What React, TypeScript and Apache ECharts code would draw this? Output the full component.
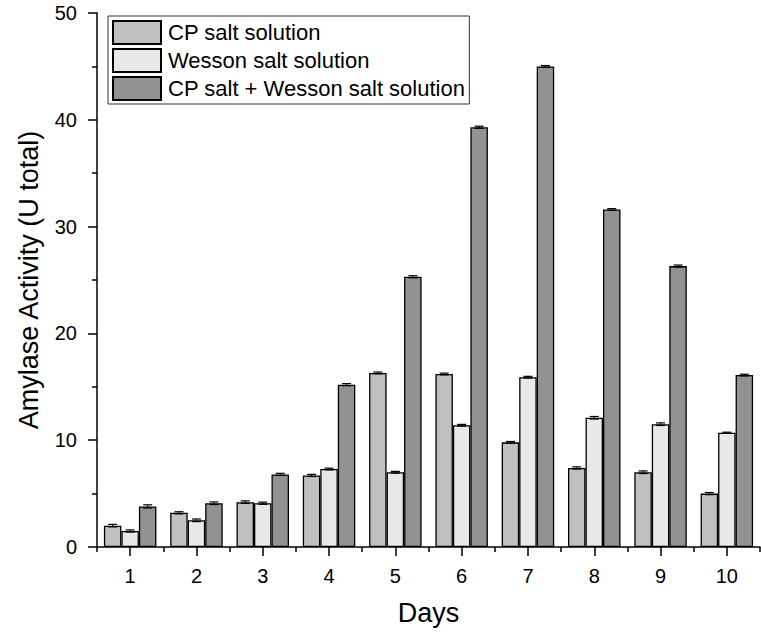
import React, { useEffect, useRef } from "react";
import * as echarts from "echarts";

const days = ["1", "2", "3", "4", "5", "6", "7", "8", "9", "10"];
const seriesNames = ["CP salt solution", "Wesson salt solution", "CP salt + Wesson salt solution"];
const cpSalt = [2.0, 3.2, 4.2, 6.7, 16.3, 16.2, 9.8, 7.4, 7.0, 5.0];
const wessonSalt = [1.5, 2.5, 4.1, 7.3, 7.0, 11.4, 15.9, 12.1, 11.5, 10.7];
const combined = [3.8, 4.1, 6.8, 15.2, 25.3, 39.3, 45.0, 31.6, 26.3, 16.1];
const cpErr = [0.12, 0.1, 0.12, 0.1, 0.08, 0.08, 0.08, 0.1, 0.12, 0.1];
const wessonErr = [0.1, 0.12, 0.1, 0.08, 0.08, 0.08, 0.08, 0.12, 0.12, 0.05];
const combinedErr = [0.15, 0.12, 0.1, 0.1, 0.1, 0.1, 0.08, 0.08, 0.1, 0.08];
const colors = ["#c0c0c0", "#e8e8e8", "#929292"];

const FONT = "'Liberation Sans', Arial, sans-serif";
const BAR_W = 17.5;

export default function App() {
  const ref = useRef<HTMLDivElement>(null);
  useEffect(() => {
    if (!ref.current) return;
    const chart = echarts.init(ref.current, null, { renderer: "svg" });
    const values = [cpSalt, wessonSalt, combined];
    const errs = [cpErr, wessonErr, combinedErr];

    const barSeries = values.map((v, k) => ({
      name: seriesNames[k],
      type: "bar",
      xAxisIndex: 0,
      data: v,
      barWidth: BAR_W,
      barGap: "0%",
      itemStyle: { color: colors[k], borderColor: "#000", borderWidth: 1.3 },
      z: 2,
    }));

    const errSeries = values.map((v, k) => ({
      type: "custom",
      xAxisIndex: 0,
      data: v.map((val, i) => [i, val, errs[k][i]]),
      z: 5,
      silent: true,
      renderItem: (params: any, api: any) => {
        const i = api.value(0);
        const val = api.value(1);
        const e = api.value(2);
        const off = (k - 1) * BAR_W;
        const top = api.coord([i, val + e]);
        const bot = api.coord([i, val - e]);
        const x = top[0] + off;
        const half = 4.5;
        return {
          type: "group",
          children: [
            { type: "line", shape: { x1: x, y1: top[1], x2: x, y2: bot[1] }, style: { stroke: "#000", lineWidth: 1 } },
            { type: "line", shape: { x1: x - half, y1: top[1], x2: x + half, y2: top[1] }, style: { stroke: "#000", lineWidth: 1.2 } },
            { type: "line", shape: { x1: x - half, y1: bot[1], x2: x + half, y2: bot[1] }, style: { stroke: "#000", lineWidth: 1.2 } },
          ],
        };
      },
    }));

    chart.setOption({
      animation: false,
      textStyle: { fontFamily: FONT },
      grid: { left: 97, right: 1, top: 13, bottom: 86 },
      legend: {
        data: seriesNames,
        orient: "vertical",
        left: 108,
        top: 16,
        icon: "rect",
        itemWidth: 48,
        itemHeight: 23,
        itemGap: 3,
        padding: [4, 4, 3, 4],
        backgroundColor: "#fff",
        borderColor: "#333",
        borderWidth: 1,
        borderRadius: 0,
        textStyle: { fontSize: 22, lineHeight: 23, color: "#000", fontFamily: FONT, padding: [0, 0, 0, 2] },
      },
      xAxis: [
        {
          type: "category",
          data: days,
          position: "bottom",
          name: "Days",
          nameLocation: "middle",
          nameGap: 52,
          nameTextStyle: { fontSize: 27, color: "#000", fontFamily: FONT },
          axisLine: { show: true, lineStyle: { color: "#000", width: 1.5 } },
          axisTick: { show: true, alignWithLabel: true, length: 9, lineStyle: { color: "#000", width: 1.5 } },
          axisLabel: { fontSize: 20, color: "#000", margin: 19, fontFamily: FONT },
          splitLine: { show: false },
        },
        {
          type: "category",
          data: days,
          position: "bottom",
          axisLine: { show: false },
          axisTick: { show: true, length: 5, lineStyle: { color: "#000", width: 1.5 } },
          axisLabel: { show: false },
          splitLine: { show: false },
        },
      ],
      yAxis: {
        type: "value",
        min: 0,
        max: 50,
        interval: 10,
        name: "Amylase Activity (U total)",
        nameLocation: "middle",
        nameGap: 55,
        nameRotate: 90,
        nameTextStyle: { fontSize: 27, color: "#000", fontFamily: FONT },
        axisLine: { show: true, lineStyle: { color: "#000", width: 1.5 } },
        axisTick: { show: true, length: 9, lineStyle: { color: "#000", width: 1.5 } },
        minorTick: { show: true, splitNumber: 2, length: 5, lineStyle: { color: "#000", width: 1.5 } },
        axisLabel: { fontSize: 20, color: "#000", margin: 20, fontFamily: FONT },
        splitLine: { show: false },
        minorSplitLine: { show: false },
      },
      series: [...barSeries, ...errSeries],
    });
    return () => chart.dispose();
  }, []);
  return (
    <div
      ref={ref}
      style={{ position: "absolute", left: 0, top: 0, width: 761, height: 633, background: "#fff" }}
    />
  );
}
